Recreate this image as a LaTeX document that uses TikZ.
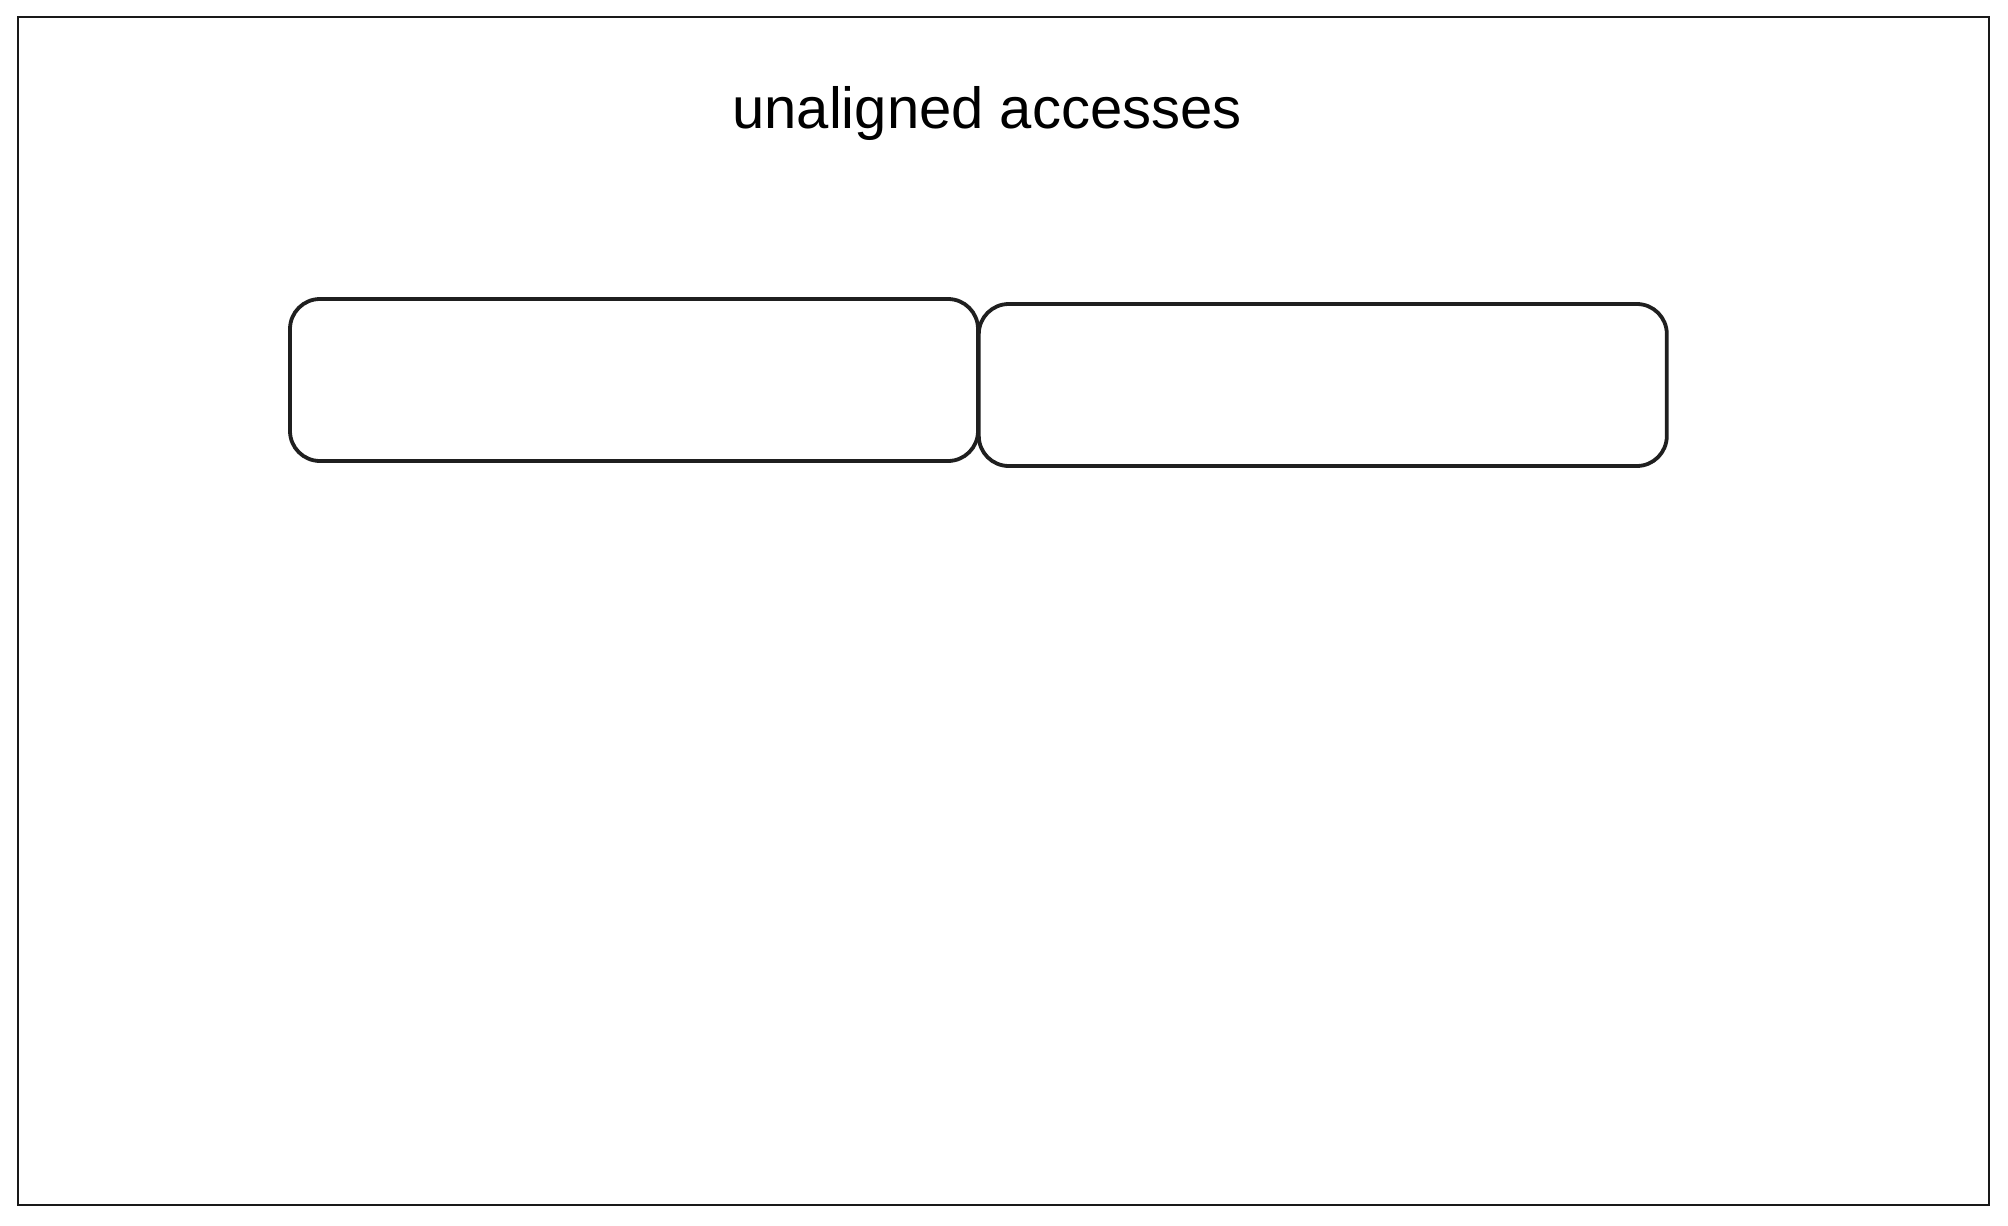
\documentclass[tikz,border=0pt]{standalone}
\usepackage{fontspec}
\setmainfont{Liberation Sans}
\usetikzlibrary{positioning}

\tikzset{
  cell/.style={draw=black!88, line width=1.9pt, rounded corners=15pt,
    minimum width=344pt, minimum height=81pt, inner sep=0pt},
  heading/.style={font=\fontsize{29}{34}\selectfont, anchor=base}
}

\begin{document}
\begin{tikzpicture}[x=0.5pt, y=-0.5pt]

  % Fix the page size
  \useasboundingbox (0,0) rectangle (2008,1226);

  % Draw the outer frame
  \draw[line width=0.8pt, black!90] (18,17) rectangle (1989,1205);

  % Add the title
  \node[heading] (title) at (987,128) {unaligned accesses};

  % Draw the two cells side by side
  \node[cell] (cellA) at (634,380) {};
  \node[cell, right=-1.5pt of cellA, yshift=-2.5pt] (cellB) {};

\end{tikzpicture}
\end{document}
